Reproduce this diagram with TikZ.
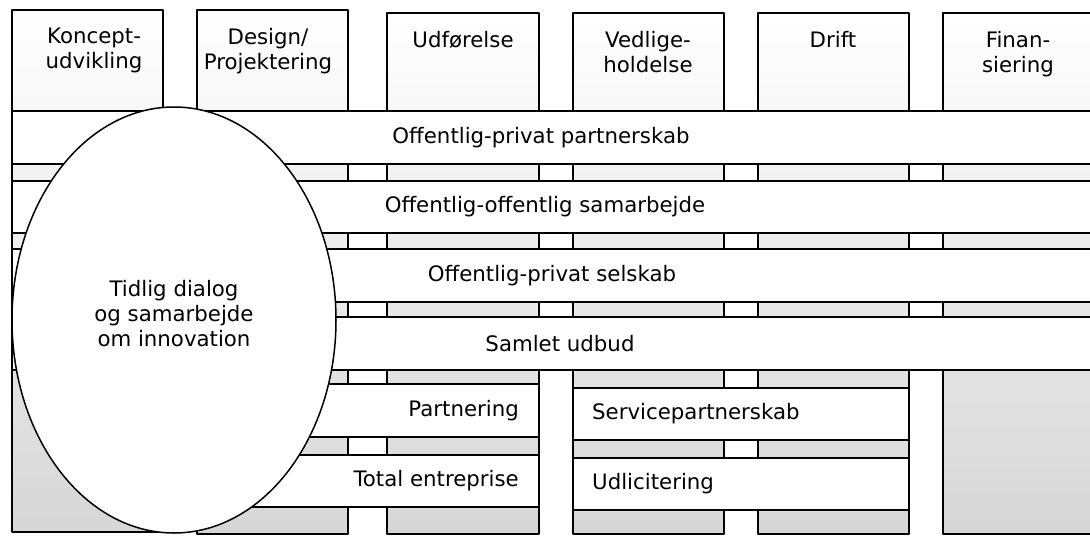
\documentclass[tikz,border=0pt]{standalone}
\usepackage{fontspec}
\setmainfont{DejaVu Sans}
\usetikzlibrary{shapes.geometric}
\tikzset{
	col/.style={draw=black,line width=1.5pt,top color=white,bottom color=black!16},
	bar/.style={draw=black,line width=1.5pt,fill=white},
	txt/.style={font=\fontsize{21.3}{25}\selectfont,align=center,inner sep=0pt}
}
\begin{document}
\begin{tikzpicture}[x=1pt,y=-1pt,line join=round,line cap=round]
			\def\W{1090} \def\H{557}
			\useasboundingbox (0,0) rectangle (\W,\H);
			\clip (0,0) rectangle (\W,\H);
			\foreach \i/\xl/\xr/\yt/\yb/\xt/\t in {1/12/163/10/532/94/{Koncept-\\udvikling},2/197/348/10/534/268/{Design/\\Projektering},3/387/539/13/534/463/{Udførelse},4/573/724/13/534/648/{Vedlige-\\holdelse},5/758/909/13/534/833/{Drift},6/943/1093/13/534/1018/{Finan-\\siering}}
			{
				\draw[col] (\xl,\yt) rectangle (\xr,\yb);
				\node[txt,anchor=north] (c\i) at (\xt,\yt+18) {\t};
			}
			\foreach \i/\yt/\yb/\xt/\t in {1/111/164/541/Offentlig-privat partnerskab,2/181/233/545/Offentlig-offentlig samarbejde,3/249/302/552/Offentlig-privat selskab,4/317/370/560/Samlet udbud}
			{
				\draw[bar] (12,\yt) rectangle (1095,\yb);
				\node[txt] (b\i) at (\xt,{(\yt+\yb)/2}) {\t};
			}
			\foreach \i/\xl/\xr/\yt/\yb/\a/\xt/\t in {5/160/539/384/437/east/519/Partnering,6/160/539/455/507/east/519/Total entreprise,7/573/909/388/440/west/592/Servicepartnerskab,8/573/909/458/510/west/592/Udlicitering}
			{
				\draw[bar] (\xl,\yt) rectangle (\xr,\yb);
				\node[txt,anchor=\a] (b\i) at (\xt,{(\yt+\yb)/2}) {\t};
			}
			\node[txt,draw,ellipse,line width=1.5pt,fill=white,minimum width=324pt,minimum height=426pt] (dialog) at (174,320) {Tidlig dialog\\og samarbejde\\om innovation\\[-12pt]};
		\end{tikzpicture}
\end{document}
